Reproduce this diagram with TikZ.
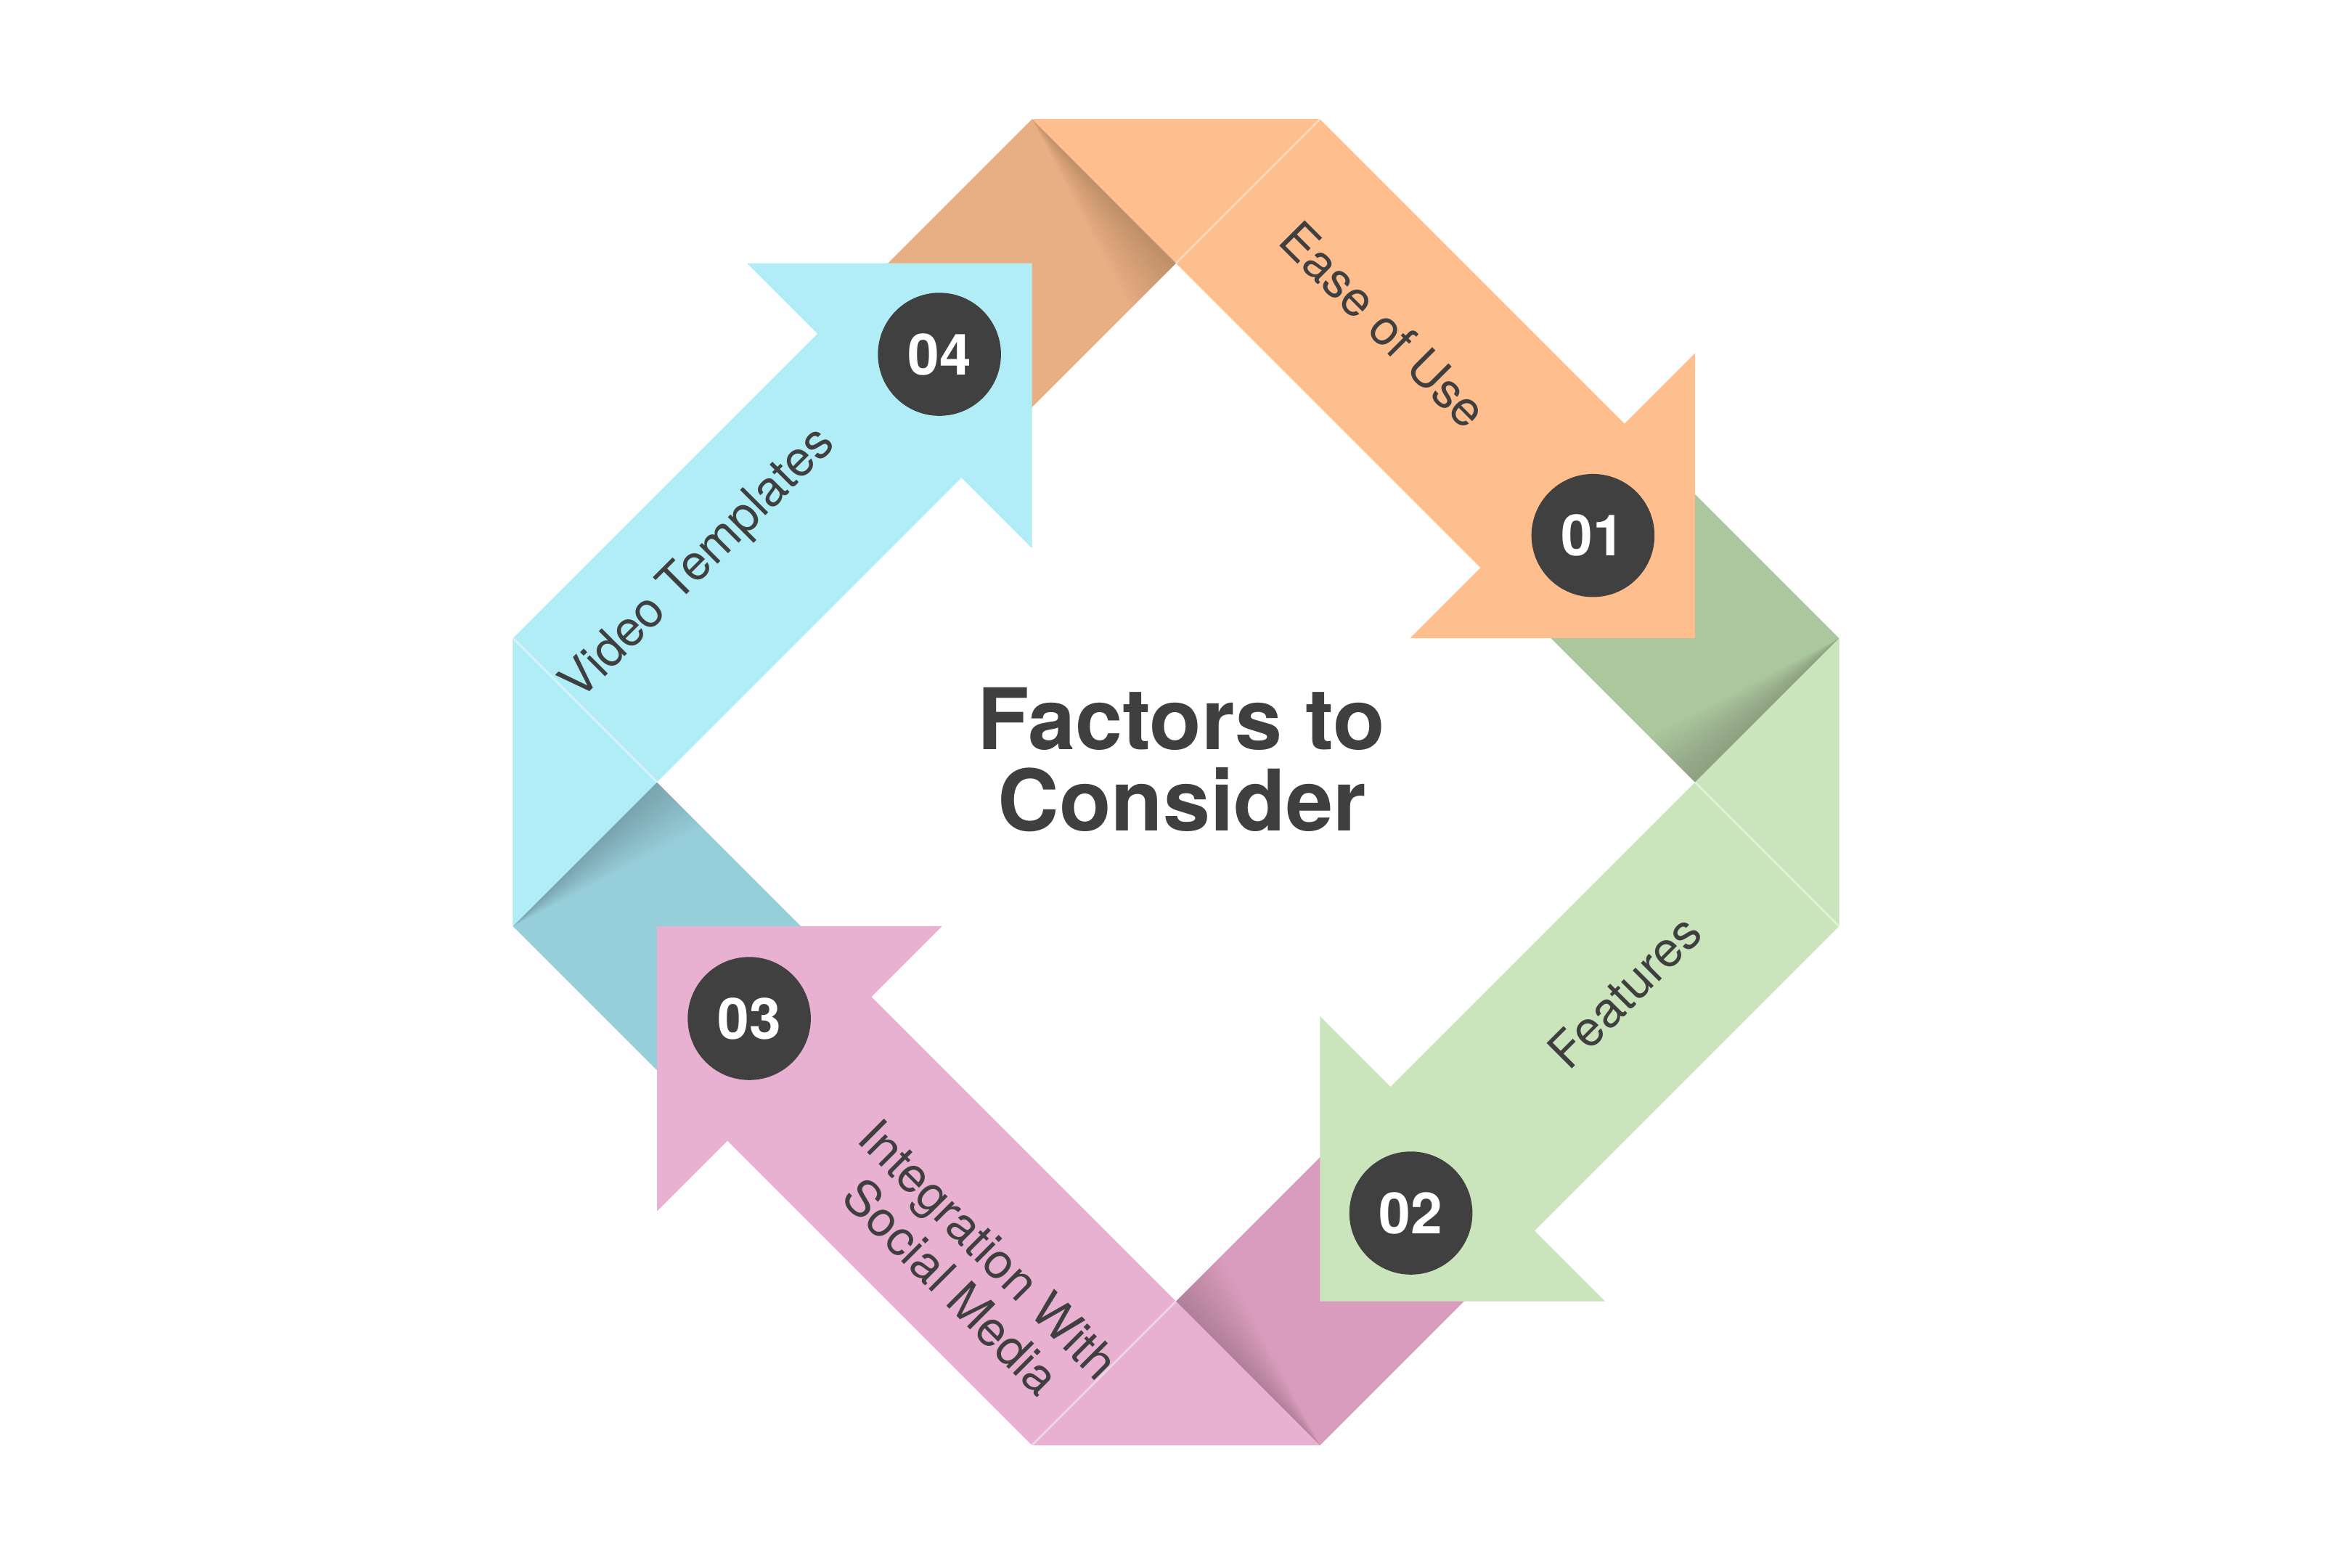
\documentclass[tikz,border=0pt]{standalone}
\usepackage{fontspec}
\setmainfont{TeX Gyre Heros}
\definecolor{orB}{HTML}{FEBE8E}
\definecolor{orD}{HTML}{E8AE84}
\definecolor{grB}{HTML}{CAE4BC}
\definecolor{grD}{HTML}{ABC79D}
\definecolor{piB}{HTML}{E8B0D1}
\definecolor{piD}{HTML}{DA9CBE}
\definecolor{cyB}{HTML}{B0EDF7}
\definecolor{cyD}{HTML}{96CED9}
\definecolor{numgray}{HTML}{404040}
\definecolor{txtgray}{HTML}{3F3F3F}
\begin{document}
\begin{tikzpicture}[x=0.01cm,y=-0.01cm,
  lbl/.style={text=txtgray, font=\fontsize{9.3}{10}\selectfont, inner sep=0pt},
  num/.style={circle, fill=numgray, text=white, inner sep=0pt, minimum size=0.82cm,
              font=\fontsize{10.8}{12}\selectfont\bfseries},
  ttl/.style={text=txtgray, font=\fontsize{16.1}{16}\selectfont\bfseries, inner sep=0pt},
  shade layer/.style={fill=black, fill opacity=0.013},
  crease/.style={white, opacity=0.45, line width=0.4pt}]
\begin{scope}[shift={(784,521.5)}]
\useasboundingbox (-784,-521.5) rectangle (784,523.5);
% dark (back) parts of the ribbon
\fill[orD] (-96,-442) -- (96,-442) -- (-123,-223) -- (-219,-319) -- cycle;
\fill[grD] (442,-96) -- (442,96) -- (223,-123) -- (319,-219) -- cycle;
\fill[piD] (96,442) -- (-96,442) -- (123,223) -- (219,319) -- cycle;
\fill[cyD] (-442,96) -- (-442,-96) -- (-223,123) -- (-319,219) -- cycle;
% shadows along the folds
\foreach \w in {3,6,...,42} {
  \fill[shade layer] (-96,-442) -- (0,-346) -- ({-\w*0.7071},{-346+\w*0.7071}) -- cycle;
  \fill[shade layer] (442,-96) -- (346,0) -- ({346-\w*0.7071},{-\w*0.7071}) -- cycle;
  \fill[shade layer] (96,442) -- (0,346) -- ({\w*0.7071},{346-\w*0.7071}) -- cycle;
  \fill[shade layer] (-442,96) -- (-346,0) -- ({-346+\w*0.7071},{\w*0.7071}) -- cycle;
}
% bright arrows
\fill[orB] (-96,-442) -- (96,-442) -- (299,-239) -- (346,-286) -- (346,-96) -- (156,-96) -- (203,-143) -- cycle;
\fill[grB] (442,-96) -- (442,96) -- (239,299) -- (286,346) -- (96,346) -- (96,156) -- (143,203) -- cycle;
\fill[piB] (96,442) -- (-96,442) -- (-299,239) -- (-346,286) -- (-346,96) -- (-156,96) -- (-203,143) -- cycle;
\fill[cyB] (-442,96) -- (-442,-96) -- (-239,-299) -- (-286,-346) -- (-96,-346) -- (-96,-156) -- (-143,-203) -- cycle;
% faint crease lines
\draw[crease] (0,-346) -- (96,-442);
\draw[crease] (346,0) -- (442,96);
\draw[crease] (0,346) -- (-96,442);
\draw[crease] (-346,0) -- (-442,-96);
% numbers
\node[num] (n1) at (278,-164.5) {01};
\node[num] (n2) at (156.6,287.2) {02};
\node[num] (n3) at (-284.5,157.5) {03};
\node[num] (n4) at (-157.7,-285.3) {04};
% labels
\node[lbl, rotate=-45] (l1) at (138.5,-305) {Ease of Use};
\node[lbl, rotate=45] (l2) at (299,139.5) {Features};
\node[lbl, rotate=-45, align=center] (l3) at (-137.4,323.8) {Integration With\\Social Media};
\node[lbl, rotate=45] (l4) at (-318,-145) {Video Templates};
% title
\node[ttl, anchor=base] (t1) at (3.5,-22) {Factors to};
\node[ttl, anchor=base] (t2) at (4,32.5) {Consider};
\end{scope}
\end{tikzpicture}
\end{document}
